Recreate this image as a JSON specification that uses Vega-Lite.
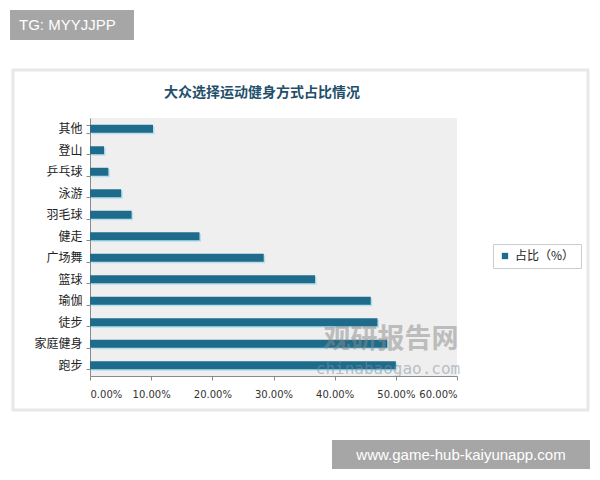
{
  "$schema": "https://vega.github.io/schema/vega-lite/v6.json",
  "width": 367,
  "height": 258,
  "autosize": "none",
  "padding": {"left": 90, "top": 118, "right": 143, "bottom": 104},
  "background": "white",
  "datasets": {
    "sports": [
      {"item": "其他", "share": 0.103},
      {"item": "登山", "share": 0.023},
      {"item": "乒乓球", "share": 0.030},
      {"item": "泳游", "share": 0.051},
      {"item": "羽毛球", "share": 0.068},
      {"item": "健走", "share": 0.179},
      {"item": "广场舞", "share": 0.284},
      {"item": "篮球", "share": 0.368},
      {"item": "瑜伽", "share": 0.459},
      {"item": "徒步", "share": 0.470},
      {"item": "家庭健身", "share": 0.486},
      {"item": "跑步", "share": 0.500}
    ],
    "heading": [{"label": "大众选择运动健身方式占比情况"}],
    "marks": [{"label": "TG: MYYJJPP"}],
    "site": [{"label": "www.game-hub-kaiyunapp.com"}],
    "wm1": [{"label": "观研报告网"}],
    "wm2": [{"label": "chinabaogao.com"}],
    "card": [{"label": "card"}]
  },
  "layer": [
    {
      "data": {"name": "card"},
      "mark": {"type": "rect", "fill": null, "stroke": "#e8e8e8", "strokeWidth": 3, "clip": false},
      "encoding": {
        "x": {"value": -77},
        "x2": {"value": 498},
        "y": {"value": -48},
        "y2": {"value": 292}
      }
    },
    {
      "data": {"name": "heading"},
      "mark": {"type": "text", "font": "Noto Sans CJK SC", "fontWeight": "bold", "fontSize": 14, "color": "#234f6a", "align": "center", "baseline": "middle", "clip": false},
      "encoding": {"text": {"field": "label"}, "x": {"value": 172}, "y": {"value": -25}}
    },
    {
      "data": {"name": "sports"},
      "mark": {"type": "bar", "color": "#b5e0ec", "xOffset": 1.5, "yOffset": 1.5},
      "encoding": {
        "y": {"field": "item", "type": "nominal", "sort": null},
        "x": {"field": "share", "type": "quantitative"}
      }
    },
    {
      "data": {"name": "sports"},
      "mark": {"type": "bar"},
      "encoding": {
        "y": {
          "field": "item",
          "type": "nominal",
          "sort": null,
          "scale": {"paddingInner": 0.63, "paddingOuter": 0.315},
          "axis": {
            "title": null,
            "labelFont": "Noto Sans CJK SC",
            "labelFontSize": 12,
            "labelColor": "#222222",
            "domainColor": "#8a8a8a",
            "tickColor": "#8a8a8a",
            "tickSize": 4,
            "tickBand": "extent",
            "labelPadding": 4
          }
        },
        "x": {
          "field": "share",
          "type": "quantitative",
          "scale": {"domain": [0, 0.6], "nice": false},
          "axis": {
            "title": null,
            "format": ".2%",
            "values": [0, 0.1, 0.2, 0.3, 0.4, 0.5, 0.6],
            "labelOverlap": false,
            "grid": false,
            "labelFont": "DejaVu Sans",
            "labelFontSize": 10,
            "labelColor": "#333333",
            "domainColor": "#8a8a8a",
            "tickColor": "#8a8a8a",
            "tickSize": 4,
            "labelPadding": 9
          }
        },
        "color": {
          "datum": "占比（%）",
          "type": "nominal",
          "scale": {"range": ["#1f6b8c"]},
          "legend": {
            "title": null,
            "orient": "none",
            "legendX": 403,
            "legendY": 126,
            "strokeColor": "#cccccc",
            "padding": 6,
            "symbolType": "square",
            "symbolSize": 40,
            "labelFont": "Noto Sans CJK SC",
            "labelFontSize": 12,
            "labelColor": "#222222"
          }
        }
      }
    },
    {
      "data": {"name": "wm1"},
      "mark": {"type": "text", "font": "Noto Sans CJK SC", "fontWeight": "bold", "fontSize": 27, "color": "#8a8a8a", "opacity": 0.5, "clip": false},
      "encoding": {"text": {"field": "label"}, "x": {"value": 301}, "y": {"value": 222}}
    },
    {
      "data": {"name": "wm2"},
      "mark": {"type": "text", "font": "DejaVu Sans Mono", "fontSize": 16, "color": "#7f8f9f", "opacity": 0.5, "clip": false},
      "encoding": {"text": {"field": "label"}, "x": {"value": 298}, "y": {"value": 251}}
    },
    {
      "data": {"name": "marks"},
      "mark": {"type": "rect", "color": "#a6a6a6", "clip": false},
      "encoding": {"x": {"value": -80}, "x2": {"value": 44}, "y": {"value": -108}, "y2": {"value": -78}}
    },
    {
      "data": {"name": "marks"},
      "mark": {"type": "text", "align": "left", "baseline": "middle", "font": "Liberation Sans", "fontSize": 15, "color": "white", "clip": false},
      "encoding": {"text": {"field": "label"}, "x": {"value": -71}, "y": {"value": -93}}
    },
    {
      "data": {"name": "site"},
      "mark": {"type": "rect", "color": "#a6a6a6", "clip": false},
      "encoding": {"x": {"value": 242}, "x2": {"value": 500}, "y": {"value": 322}, "y2": {"value": 351}}
    },
    {
      "data": {"name": "site"},
      "mark": {"type": "text", "align": "center", "baseline": "middle", "font": "Liberation Sans", "fontSize": 15, "color": "white", "clip": false},
      "encoding": {"text": {"field": "label"}, "x": {"value": 371}, "y": {"value": 337}}
    }
  ],
  "config": {
    "view": {"fill": "#efefef", "stroke": null}
  }
}
